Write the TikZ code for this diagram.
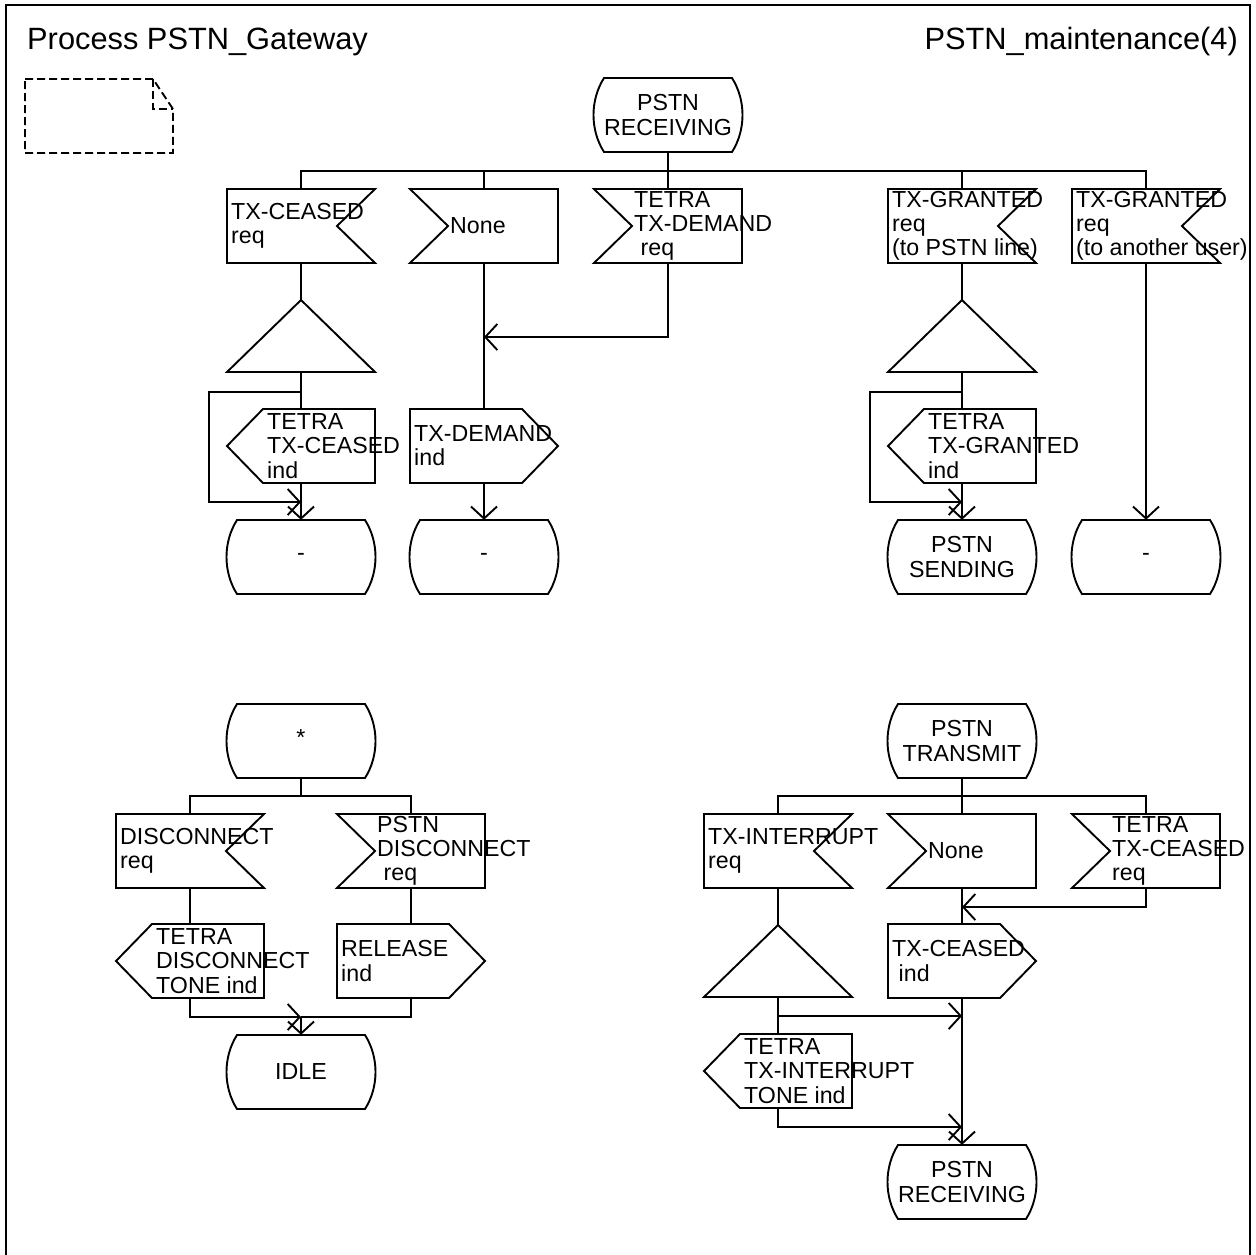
\documentclass[tikz,border=0pt]{standalone}
\usepackage{fontspec}
\setmainfont{Liberation Sans}
\usetikzlibrary{arrows.meta,calc}
\tikzset{
  ln/.style={line width=1.9pt, line join=miter},
  arr/.style={ln, -{Straight Barb[length=12pt,width=26pt,line width=1.9pt]}},
  box/.style={draw=none, inner sep=0pt, minimum width=148pt, minimum height=74pt},
  txt/.style={inner sep=0pt, align=left, font=\fontsize{23.2}{24.2}\selectfont},
  ctxt/.style={inner sep=0pt, align=center, font=\fontsize{23.2}{24.2}\selectfont},
  ttl/.style={inner sep=0pt, font=\fontsize{30.8}{33}\selectfont},
}
% state symbol
\newcommand\sdlState[4]{%
  \node[box] (#1) at (#2,#3) {};
  \draw[ln,shift={(#1)}] (-64,-37) -- (64,-37) .. controls (78,-15) and (78,15) .. (64,37)
     -- (-64,37) .. controls (-78,15) and (-78,-15) .. (-64,-37) -- cycle;
  \node[ctxt] (#1-t) at (#1) {#4};}
% input, notch on the right
\newcommand\sdlInR[4]{%
  \node[box] (#1) at (#2,#3) {};
  \draw[ln,shift={(#1)}] (-74,-37) -- (74,-37) -- (36,0) -- (74,37) -- (-74,37) -- cycle;
  \node[txt,anchor=west,xshift=-70pt] (#1-t) at (#1) {#4};}
% input, notch on the left
\newcommand\sdlInL[4]{%
  \node[box] (#1) at (#2,#3) {};
  \draw[ln,shift={(#1)}] (-74,-37) -- (74,-37) -- (74,37) -- (-74,37) -- (-36,0) -- cycle;
  \node[txt,anchor=west,xshift=-34pt] (#1-t) at (#1) {#4};}
% output, point on the left
\newcommand\sdlOutL[4]{%
  \node[box] (#1) at (#2,#3) {};
  \draw[ln,shift={(#1)}] (-74,0) -- (-38,-37) -- (74,-37) -- (74,37) -- (-38,37) -- cycle;
  \node[txt,anchor=west,xshift=-34pt] (#1-t) at (#1) {#4};}
% output, point on the right
\newcommand\sdlOutR[4]{%
  \node[box] (#1) at (#2,#3) {};
  \draw[ln,shift={(#1)}] (-74,-37) -- (38,-37) -- (74,0) -- (38,37) -- (-74,37) -- cycle;
  \node[txt,anchor=west,xshift=-70pt] (#1-t) at (#1) {#4};}
% triangle
\newcommand\sdlTri[3]{%
  \node[box,minimum height=72pt] (#1) at (#2,#3) {};
  \draw[ln,shift={(#1)}] (-74,36) -- (0,-36) -- (74,36) -- cycle;}
\newcommand\lsp{\hspace*{.28em}}
\begin{document}
\begin{tikzpicture}[x=1pt,y=-1pt]
\useasboundingbox (0,0) rectangle (1256,1254);
% frame
\draw[ln] (6,1262) -- (6,5) -- (1250,5) -- (1250,1262);
\node[ttl,anchor=base west] (title) at (27,49) {Process PSTN\_Gateway};
\node[ttl,anchor=base east] (page) at (1238,49) {PSTN\_maintenance(4)};
% note symbol
\draw[ln,dash pattern=on 8pt off 4pt] (25,79) -- (153,79) -- (173,109) -- (173,153) -- (25,153) -- cycle;
\draw[ln,dash pattern=on 8pt off 4pt] (153,79) -- (153,109) -- (173,109);

% ---------- top section ----------
\sdlState{pr}{668}{115}{PSTN\\RECEIVING}
\coordinate (b1) at (668,171);
\sdlInR{in1}{301}{226}{TX-CEASED\\req}
\sdlInL{in2}{484}{226}{None}
\sdlInL{in3}{668}{226}{TETRA\\TX-DEMAND\\\lsp req}
\sdlInR{in4}{962}{226}{TX-GRANTED\\req\\(to PSTN line)}
\sdlInR{in5}{1146}{226}{TX-GRANTED\\req\\(to another user)}
\sdlTri{tr1}{301}{336}
\sdlTri{tr4}{962}{336}
\sdlOutL{o1}{301}{446}{TETRA\\TX-CEASED\\ind}
\sdlOutR{o2}{484}{446}{TX-DEMAND\\ind}
\sdlOutL{o4}{962}{446}{TETRA\\TX-GRANTED\\ind}
\sdlState{s1}{301}{557}{-}
\sdlState{s2}{484}{557}{-}
\sdlState{s4}{962}{557}{PSTN\\SENDING}
\sdlState{s5}{1146}{557}{-}
\coordinate (l1) at (301,392);
\coordinate (j1) at (301,502);
\coordinate (j2) at (484,337);
\coordinate (l4) at (962,392);
\coordinate (j4) at (962,502);

\draw[ln] (pr.south) -- (b1);
\draw[ln] (in1.north) |- (b1) -| (in5.north);
\draw[ln] (in2.north) -- (in2.north |- b1);
\draw[ln] (in3.north) -- (b1);
\draw[ln] (in4.north) -- (in4.north |- b1);
\draw[ln] (in1.south) -- (tr1.north);
\draw[ln] (tr1.south) -- (o1.north);
\draw[arr] (l1) -- ++(-92,0) |- (j1);
\draw[arr] (o1.south) -- (s1.north);
\draw[ln] (in2.south) -- (o2.north);
\draw[arr] (in3.south) |- (j2);
\draw[arr] (o2.south) -- (s2.north);
\draw[ln] (in4.south) -- (tr4.north);
\draw[ln] (tr4.south) -- (o4.north);
\draw[arr] (l4) -- ++(-92,0) |- (j4);
\draw[arr] (o4.south) -- (s4.north);
\draw[arr] (in5.south) -- (s5.north);

% ---------- bottom left ----------
\sdlState{s6}{301}{741}{\raisebox{6pt}{*}}
\coordinate (b6) at (301,796);
\sdlInR{in6}{190}{851}{DISCONNECT\\req}
\sdlInL{in7}{411}{851}{PSTN\\DISCONNECT\\\lsp req}
\sdlOutL{o6}{190}{961}{TETRA\\DISCONNECT\\TONE ind}
\sdlOutR{o7}{411}{961}{RELEASE\\ind}
\coordinate (j6) at (301,1017);
\sdlState{s7}{301}{1072}{IDLE}
\draw[ln] (s6.south) -- (b6);
\draw[ln] (in6.north) |- (b6) -| (in7.north);
\draw[ln] (in6.south) -- (o6.north);
\draw[ln] (in7.south) -- (o7.north);
\draw[arr] (o6.south) |- (j6);
\draw[ln] (o7.south) |- (j6);
\draw[arr] (j6) -- (s7.north);

% ---------- bottom right ----------
\sdlState{s8}{962}{741}{PSTN\\TRANSMIT}
\coordinate (b8) at (962,796);
\sdlInR{in8}{778}{851}{TX-INTERRUPT\\req}
\sdlInL{in9}{962}{851}{None}
\sdlInL{in10}{1146}{851}{TETRA\\TX-CEASED\\req}
\coordinate (j9) at (962,907);
\sdlOutR{o9}{962}{961}{TX-CEASED\\\lsp ind}
\sdlTri{tr8}{778}{961}
\sdlOutL{o8}{778}{1071}{TETRA\\TX-INTERRUPT\\TONE ind}
\coordinate (j8a) at (962,1016);
\coordinate (j8b) at (962,1127);
\sdlState{s9}{962}{1182}{PSTN\\RECEIVING}
\draw[ln] (s8.south) -- (b8);
\draw[ln] (in8.north) |- (b8) -| (in10.north);
\draw[ln] (in9.north) -- (b8);
\draw[ln] (in9.south) -- (o9.north);
\draw[arr] (in10.south) |- (j9);
\draw[ln] (in8.south) -- (tr8.north);
\draw[ln] (tr8.south) -- (o8.north);
\draw[arr] (tr8.south |- j8a) -- (j8a);
\draw[arr] (o8.south) |- (j8b);
\draw[arr] (o9.south) -- (s9.north);
\end{tikzpicture}
\end{document}
